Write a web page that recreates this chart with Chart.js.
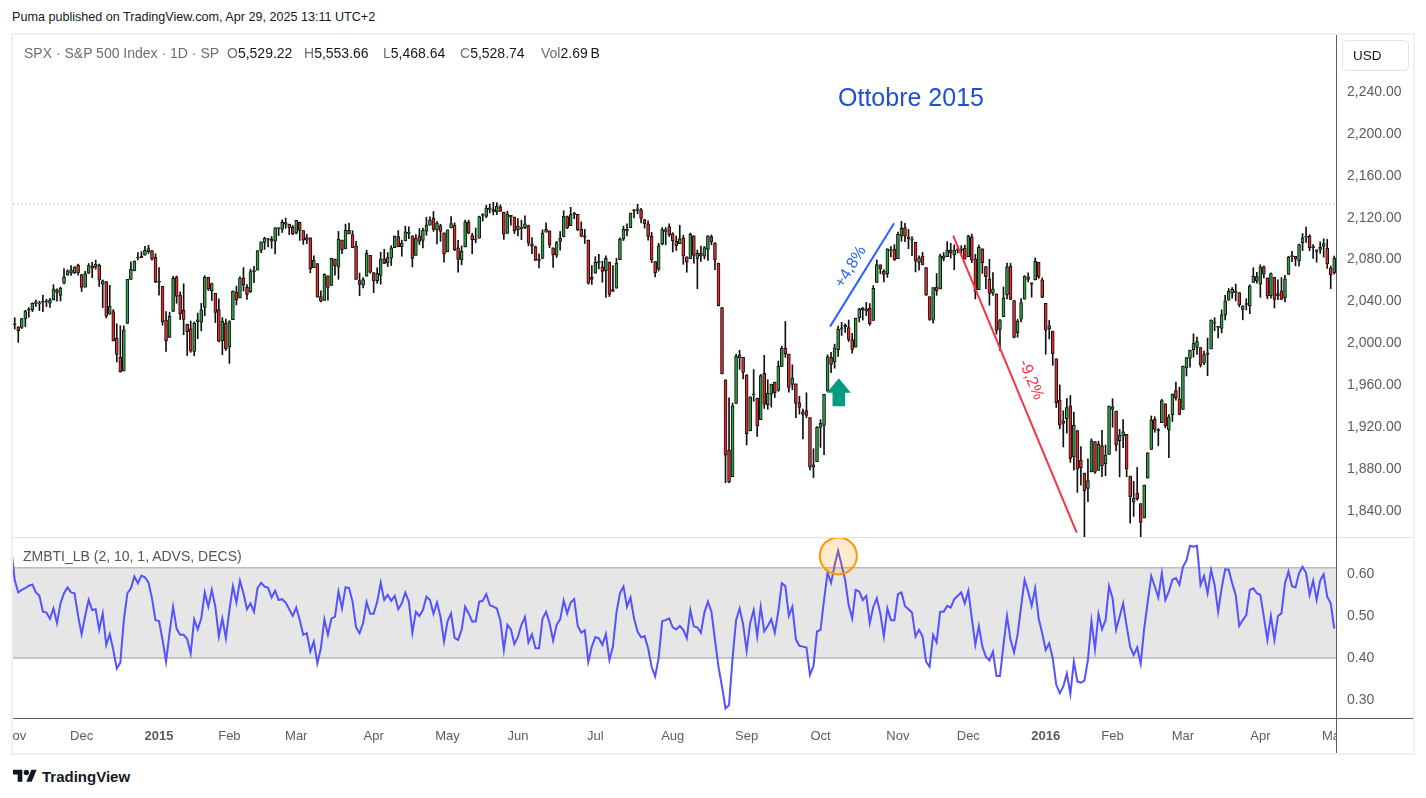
<!DOCTYPE html>
<html><head><meta charset="utf-8"><title>SPX 1D</title>
<script src="https://cdn.jsdelivr.net/npm/chart.js@4.4.1/dist/chart.umd.min.js"></script>
<style>
html,body{margin:0;padding:0;background:#fff;}
body{width:1426px;height:798px;position:relative;overflow:hidden;font-family:"Liberation Sans",Arial,sans-serif;}
.a{position:absolute;white-space:nowrap;}
canvas{position:absolute;}
#frame{left:11px;top:33px;width:1400px;height:718px;border:2px solid #eef0f3;}
.lg{position:absolute;top:45px;font-size:14px;white-space:nowrap;}
.g{color:#6a6d78}.v{color:#131722}
</style></head><body>
<div class="a" style="left:12px;top:10px;font-size:12.6px;color:#131722">Puma published on TradingView.com, Apr 29, 2025 13:11 UTC+2</div>
<div class="a" id="frame"></div>
<canvas id="pc" width="1400" height="502" style="left:13px;top:35px"></canvas>
<canvas id="ic" width="1400" height="216" style="left:13px;top:537px"></canvas>
<div class="a" style="left:13px;top:537px;width:1400px;height:1px;background:#e0e3eb"></div>
<div class="a" style="left:1336px;top:35px;width:1px;height:718px;background:#5d5d5d"></div>
<div class="a" style="left:13px;top:718px;width:1400px;height:1px;background:#5d5d5d"></div>
<div class="lg g" style="left:24px">SPX · S&amp;P 500 Index · 1D · SP</div>
<div class="lg" style="left:227px"><span class="g">O</span><span class="v">5,529.22</span></div>
<div class="lg" style="left:304px"><span class="g">H</span><span class="v">5,553.66</span></div>
<div class="lg" style="left:383px"><span class="g">L</span><span class="v">5,468.64</span></div>
<div class="lg" style="left:460px"><span class="g">C</span><span class="v">5,528.74</span></div>
<div class="lg" style="left:541px"><span class="g">Vol</span><span class="v">2.69&#8201;B</span></div>
<div class="a" style="left:1342px;top:40px;width:67px;height:31px;border:1px solid #e0e3eb;border-radius:5px;box-sizing:border-box;font-size:13.5px;color:#131722;padding:7px 0 0 10px">USD</div>
<div class="a" style="left:23px;top:548px;font-size:14px;color:#555">ZMBTI_LB (2, 10, 1, ADVS, DECS)</div>
<div class="a" style="left:838px;top:83px;font-size:25px;color:#1f4fd3">Ottobre 2015</div>
<div class="a" style="left:13px;top:767px;display:flex;align-items:center;">
<svg width="24" height="19" viewBox="0 0 36 28"><path d="M14 22H7V11H0V4h14v18zM28 22h-8l7.5-18h8L28 22z" fill="#131722"/><circle cx="20" cy="8" r="4" fill="#131722"/></svg>
<span style="margin-left:5px;font-size:15px;font-weight:bold;color:#131722">TradingView</span></div>
<script>
// ---------- DATA (SPX daily, 3 Nov 2014 .. 2 May 2016) ----------
const opens = [
2018.2,2015.8,2015.3,2023.3,2032.4,2032.0,2038.2,2037.8,2039.2,2039.7,2038.3,2041.5,2051.2,2045.9,2057.5,2065.1,2070.2,2067.4,2074.8,
2065.8,2053.8,2067.0,2073.6,2072.8,2074.8,2056.6,2058.9,2027.9,2030.4,2005.0,1986.7,1973.8,2019.0,2061.0,2069.3,2081.5,2083.3,2084.3,2087.6,2088.5,2082.1,
2058.9,2054.4,2022.2,2005.6,2030.6,2063.5,2046.1,2031.6,2018.4,2013.8,1992.3,2020.8,2020.2,2034.3,2063.0,2050.4,2047.9,2032.3,2002.5,2019.4,
1996.7,2022.7,2048.9,2043.5,2062.3,2053.5,2049.4,2068.6,2070.0,2088.8,2096.5,2099.2,2099.3,2097.7,2109.8,2109.1,2115.3,2113.9,2110.9,
2105.2,2115.8,2107.7,2098.5,2100.9,2072.3,2076.1,2044.7,2041.1,2064.6,2055.4,2080.6,2072.8,2098.7,2090.3,2108.0,2103.9,2093.1,2059.9,2055.8,2064.1,2084.1,
2067.6,2060.0,2064.9,2080.8,2076.9,2081.3,2091.5,2102.0,2092.3,2097.8,2105.0,2102.6,2084.1,2102.8,2098.3,2107.2,2112.8,2119.3,2108.4,2112.5,2105.5,
2087.4,2110.2,2112.6,2091.3,2080.0,2092.1,2115.6,2102.9,2099.6,2100.4,2122.1,2121.3,2129.5,2127.8,2125.6,2130.4,2125.3,2105.1,2122.3,2120.7,
2108.6,2110.4,2110.6,2112.4,2095.1,2092.3,2079.1,2081.1,2106.2,2107.4,2091.3,2084.3,2097.4,2101.6,2121.1,2112.5,2123.2,2123.2,2109.1,2102.6,2098.6,2061.2,
2067.0,2078.0,2073.0,2069.5,2077.7,2049.7,2052.7,2080.0,2099.7,2109.0,2110.6,2126.8,2126.9,2127.6,2118.2,2114.2,2102.2,2078.2,2070.8,2094.7,2106.8,2111.6,
2104.5,2097.7,2095.3,2100.8,2082.6,2081.0,2102.7,2081.1,2086.2,2083.2,2089.7,2102.0,2095.7,2076.6,2034.1,1965.2,1898.1,1872.8,1942.8,1986.1,1986.7,
1970.1,1916.5,1950.8,1947.8,1927.3,1971.5,1941.6,1951.5,1963.1,1955.1,1978.0,1995.3,1989.7,1960.8,1961.4,1943.2,1934.8,1935.9,1929.2,1881.9,1887.1,
1919.7,1921.8,1954.3,1986.6,1982.3,1994.0,2013.7,2015.7,2015.0,2003.7,1996.5,2024.4,2031.7,2033.1,2033.5,2021.9,2058.2,2075.1,2068.8,2066.5,2088.4,2090.0,
2080.8,2102.6,2110.6,2101.7,2098.6,2096.6,2077.2,2083.4,2072.3,2044.6,2022.1,2053.7,2052.0,2083.7,2082.8,2089.4,2084.4,2089.3,2088.8,2091.0,
2082.9,2101.7,2080.7,2051.2,2090.4,2073.4,2061.2,2047.9,2047.3,2013.4,2025.6,2046.5,2073.8,2040.8,2010.3,2023.2,2042.2,2063.5,2057.8,2060.5,2077.3,2060.6,
2038.2,2013.8,2011.7,1985.3,1946.0,1926.1,1927.8,1940.3,1891.7,1916.7,1888.7,1876.2,1861.5,1877.4,1906.3,1878.8,1902.5,1885.2,1894.0,
1936.9,1935.3,1907.1,1911.7,1913.1,1873.3,1848.5,1857.1,1847.0,1833.4,1871.4,1898.8,1927.6,1916.7,1924.4,1942.4,1917.6,1931.9,1955.0,1947.1,
1937.1,1976.6,1985.6,1994.0,1996.1,1996.1,1981.4,1991.0,1994.7,2019.3,2015.3,2014.2,2026.9,2041.2,2047.9,2048.6,2048.6,2032.5,2037.9,2035.8,2058.3,2063.8,
2056.6,2073.2,2062.5,2045.6,2063.0,2045.5,2050.2,2043.7,2065.9,2082.9,2083.1,2078.8,2096.1,2101.5,2102.1,2091.5,2089.4,2089.8,2092.6,2090.9,2071.8,
2067.2];
const highs = [
2024.5,2016.0,2023.8,2031.6,2034.3,2038.7,2041.3,2040.3,2046.2,2042.2,2043.1,2056.1,2052.1,2053.8,2071.5,2070.2,2074.2,2073.3,2075.8,
2065.8,2068.8,2076.3,2077.3,2079.5,2075.8,2060.6,2058.9,2055.5,2032.3,2018.7,2016.9,2016.8,2061.2,2077.9,2078.8,2086.7,2087.6,2092.7,2093.6,2088.5,2085.6,
2072.4,2054.4,2030.3,2029.6,2064.1,2064.4,2049.3,2056.9,2018.4,2021.4,2020.5,2028.9,2038.3,2064.6,2063.0,2057.6,2047.9,2042.5,2024.6,2023.3,
2021.7,2050.3,2054.7,2063.6,2072.4,2056.2,2070.9,2073.5,2088.5,2097.0,2101.3,2100.2,2102.1,2110.6,2110.1,2117.9,2119.6,2113.9,2112.7,
2117.5,2115.8,2107.7,2104.3,2100.9,2083.5,2076.1,2050.1,2066.4,2064.6,2081.4,2080.6,2106.9,2098.7,2113.9,2114.9,2107.6,2097.4,2067.2,2062.8,2089.0,2084.1,
2067.6,2072.2,2087.0,2089.8,2086.7,2093.3,2102.6,2107.7,2098.6,2111.9,2111.3,2102.6,2103.9,2109.6,2110.0,2120.5,2120.9,2125.9,2116.4,2113.7,2105.5,
2108.4,2121.0,2115.2,2098.4,2092.9,2117.7,2117.7,2105.1,2110.2,2121.5,2123.9,2131.8,2133.0,2134.7,2134.3,2132.2,2125.3,2126.2,2122.3,2120.7,
2119.2,2117.6,2121.9,2112.9,2101.0,2093.0,2085.6,2108.5,2115.0,2107.4,2091.3,2097.4,2106.8,2126.6,2121.6,2129.9,2125.1,2123.2,2116.0,2108.9,2098.6,2074.3,
2082.8,2085.1,2078.6,2083.7,2077.7,2074.3,2081.3,2100.7,2112.0,2114.1,2124.4,2128.0,2132.8,2128.9,2118.5,2116.9,2106.0,2078.2,2095.6,2110.6,2110.5,2114.2,
2105.7,2102.5,2112.7,2103.3,2082.6,2105.4,2102.7,2089.1,2092.9,2092.5,2102.9,2103.5,2096.2,2076.6,2034.1,1965.2,1948.0,1943.1,1989.6,1993.5,1986.7,
1970.1,1948.9,1975.0,1947.8,1970.4,1988.6,1965.3,1961.1,1963.1,1983.2,1997.3,2020.9,1989.7,1979.6,1961.4,1949.5,1937.2,1952.9,1929.2,1899.5,1920.5,
1927.2,1951.4,1989.2,1991.6,1999.3,2016.5,2020.1,2018.7,2022.3,2009.6,2024.2,2033.5,2034.5,2039.1,2038.0,2055.2,2079.7,2075.1,2070.4,2090.4,2092.5,2094.3,
2106.2,2116.5,2114.6,2108.8,2101.9,2096.6,2083.7,2086.9,2072.3,2044.6,2053.2,2066.7,2085.3,2086.7,2097.1,2095.6,2094.1,2093.0,2093.3,2093.8,
2103.4,2104.3,2085.0,2093.8,2090.4,2073.4,2080.3,2067.7,2047.3,2022.9,2053.9,2076.7,2076.4,2040.8,2022.9,2042.7,2064.7,2067.4,2057.8,2081.6,2077.3,2062.5,
2038.2,2021.9,2011.7,1985.3,1960.4,1935.7,1947.4,1950.3,1934.5,1916.7,1901.4,1876.2,1889.9,1908.9,1906.3,1906.7,1917.0,1903.0,1940.2,
1947.2,1935.3,1918.0,1927.4,1913.1,1873.3,1868.3,1881.6,1847.0,1864.8,1895.8,1930.7,1930.0,1918.8,1946.7,1942.4,1932.1,1951.8,1963.0,1958.3,
1978.4,1986.5,1993.7,2009.1,2006.1,1996.1,1992.7,2005.1,2022.4,2024.6,2015.9,2032.0,2046.0,2052.4,2053.4,2056.6,2048.6,2036.0,2042.7,2055.9,2072.2,2067.9,
2075.1,2074.0,2062.5,2067.3,2063.0,2060.6,2062.9,2065.1,2083.2,2087.8,2083.2,2094.7,2104.9,2111.1,2103.8,2094.3,2089.4,2096.9,2099.9,2099.3,2073.9,
2083.4];
const lows = [
2013.7,2001.0,2014.2,2015.9,2025.1,2030.2,2035.3,2031.3,2030.4,2035.2,2034.4,2041.5,2040.4,2040.5,2056.8,2065.1,2064.8,2066.6,2065.1,
2049.6,2053.8,2066.7,2062.8,2070.8,2054.3,2034.2,2024.3,2027.9,2002.3,1982.3,1972.6,1973.8,2019.0,2061.0,2069.3,2079.8,2081.9,2084.3,2085.8,2079.5,2057.9,
2046.0,2017.3,1992.4,2005.6,2030.6,2038.3,2022.6,2008.3,1988.4,1991.5,1988.1,2004.5,2012.0,2026.4,2050.5,2041.0,2019.9,2001.5,1989.2,1993.4,
1980.9,2022.7,2036.7,2043.5,2050.0,2041.9,2048.6,2058.0,2070.0,2086.7,2089.8,2092.2,2090.8,2085.4,2103.0,2105.9,2109.9,2103.8,2103.8,
2104.5,2098.3,2094.5,2095.2,2067.3,2072.2,2044.2,2039.7,2041.1,2041.2,2055.4,2065.1,2061.2,2085.6,2090.3,2104.4,2091.5,2061.1,2045.5,2053.0,2064.1,2067.0,
2048.4,2057.3,2056.5,2076.1,2073.3,2074.3,2091.5,2092.3,2083.2,2097.8,2100.0,2073.0,2084.1,2094.4,2091.1,2103.2,2112.8,2107.0,2094.9,2097.4,2077.6,
2087.4,2110.2,2088.5,2067.9,2075.0,2092.1,2104.6,2085.6,2096.0,2100.4,2116.8,2120.0,2124.5,2122.6,2122.9,2126.1,2099.2,2105.1,2112.9,2104.9,
2102.5,2099.1,2109.6,2093.2,2085.7,2079.1,2072.1,2081.1,2106.2,2091.3,2072.5,2082.1,2088.9,2101.6,2109.5,2112.5,2119.0,2107.6,2101.8,2095.4,2056.6,2056.3,
2067.0,2071.0,2058.4,2044.0,2044.7,2049.7,2052.7,2080.0,2098.2,2102.5,2110.6,2119.9,2123.7,2115.0,2110.0,2098.6,2077.1,2063.5,2069.1,2094.1,2094.1,2102.1,
2087.3,2088.6,2095.3,2075.5,2067.9,2081.0,2076.5,2052.1,2078.3,2080.6,2079.3,2094.1,2070.5,2035.7,1970.9,1867.0,1867.1,1872.8,1942.8,1975.2,1966.0,
1903.1,1916.5,1944.7,1911.2,1927.3,1937.9,1937.2,1939.2,1948.3,1954.3,1977.9,1986.7,1953.5,1955.8,1929.2,1932.6,1908.9,1929.0,1879.2,1871.9,1887.1,
1900.7,1893.7,1954.3,1972.0,1976.4,1987.5,2007.6,2010.6,2001.8,1990.7,1996.5,2020.5,2022.3,2026.6,2017.2,2021.9,2058.2,2066.5,2058.8,2063.1,2082.6,2079.3,
2080.8,2097.5,2097.0,2090.4,2083.7,2068.2,2069.9,2074.9,2045.7,2022.0,2019.4,2045.9,2052.0,2078.8,2082.8,2081.4,2070.3,2086.3,2084.1,2080.4,
2082.9,2077.1,2042.4,2051.2,2066.8,2052.3,2036.5,2045.7,2008.8,1993.3,2025.6,2042.4,2041.7,2005.3,2005.9,2020.5,2042.2,2058.7,2044.2,2060.5,2062.0,2043.6,
1989.7,2004.2,1979.1,1938.8,1918.5,1901.1,1914.4,1886.5,1878.9,1857.8,1864.6,1812.3,1849.0,1877.4,1876.0,1878.8,1872.7,1873.7,1894.0,
1920.0,1897.3,1872.6,1900.5,1872.7,1828.5,1834.9,1850.3,1810.1,1833.4,1871.4,1898.8,1915.1,1902.2,1924.4,1919.4,1891.0,1925.4,1945.8,1931.8,
1937.1,1968.9,1977.4,1986.8,1989.4,1977.4,1979.8,1969.2,1994.7,2012.1,2005.2,2010.0,2022.4,2041.2,2043.1,2040.6,2034.9,2022.5,2032.0,2028.3,2058.3,2057.5,
2044.0,2062.6,2042.6,2043.1,2033.8,2041.7,2041.9,2039.7,2065.9,2078.1,2074.0,2073.7,2088.6,2096.3,2088.5,2081.2,2077.5,2085.8,2082.3,2071.6,2052.3,
2066.1];
const closes = [
2017.8,2012.1,2023.6,2031.2,2031.9,2038.3,2039.7,2038.3,2039.3,2039.8,2041.3,2051.8,2048.7,2052.8,2063.5,2069.4,2067.0,2072.8,2067.6,
2053.4,2066.6,2074.3,2071.9,2075.4,2060.3,2059.8,2026.1,2035.3,2002.3,1989.6,1972.7,2012.9,2061.2,2070.7,2078.5,2082.2,2081.9,2088.8,2090.6,2080.4,2058.9,
2058.2,2020.6,2002.6,2025.9,2062.1,2044.8,2028.3,2023.0,2011.3,1992.7,2019.4,2022.6,2032.1,2063.2,2051.8,2057.1,2029.6,2002.2,2021.3,1995.0,
2020.9,2050.0,2041.5,2062.5,2055.5,2046.7,2068.6,2068.5,2088.5,2097.0,2100.3,2099.7,2097.5,2110.3,2109.7,2115.5,2113.9,2110.7,2104.5,
2117.4,2107.8,2098.5,2101.0,2071.3,2079.4,2044.2,2040.2,2066.0,2053.4,2081.2,2074.3,2099.5,2089.3,2108.1,2104.4,2091.5,2061.1,2056.2,2061.0,2086.2,2067.9,
2059.7,2067.0,2080.6,2076.3,2081.9,2091.2,2102.1,2092.4,2095.8,2106.6,2105.0,2081.2,2100.4,2097.3,2108.0,2112.9,2117.7,2108.9,2114.8,2106.9,2085.5,
2108.3,2114.5,2089.5,2080.2,2088.0,2116.1,2105.3,2099.1,2098.5,2121.1,2122.7,2129.2,2127.8,2125.9,2130.8,2126.1,2104.2,2123.5,2120.8,2107.4,
2111.7,2109.6,2114.1,2095.8,2092.8,2079.3,2080.2,2105.2,2108.9,2094.1,2084.4,2096.3,2100.4,2121.2,2110.0,2122.9,2124.2,2108.6,2102.3,2101.5,2057.6,2063.1,
2077.4,2076.8,2068.8,2081.3,2046.7,2051.3,2076.6,2099.6,2109.0,2107.4,2124.3,2126.6,2128.3,2119.2,2114.2,2102.2,2079.7,2067.6,2093.3,2108.6,2108.6,2103.8,
2098.0,2093.3,2099.8,2083.6,2077.6,2104.2,2084.1,2086.1,2083.4,2091.5,2102.4,2096.9,2079.6,2035.7,1970.9,1893.2,1867.6,1940.5,1987.7,1988.9,1972.2,
1913.9,1948.9,1951.1,1921.2,1969.4,1942.0,1952.3,1961.1,1953.0,1978.1,1995.3,1990.2,1958.0,1967.0,1942.7,1938.8,1932.2,1931.3,1881.8,1884.1,1920.0,
1923.8,1951.4,1987.1,1979.9,1995.8,2013.4,2014.9,2017.5,2003.7,1994.2,2023.9,2033.1,2033.7,2030.8,2018.9,2052.5,2075.2,2071.2,2065.9,2090.4,2089.4,2079.4,
2104.1,2109.8,2102.3,2099.9,2099.2,2078.6,2081.7,2075.0,2046.0,2023.0,2053.2,2050.4,2083.6,2081.2,2089.2,2086.6,2089.1,2088.9,2090.1,2080.4,
2102.6,2079.5,2049.6,2091.7,2077.1,2063.6,2047.6,2052.2,2012.4,2021.9,2043.4,2073.1,2041.9,2005.6,2021.2,2039.0,2064.3,2061.0,2056.5,2078.4,2063.4,2043.9,
2012.7,2016.7,1990.3,1943.1,1922.0,1923.7,1938.7,1890.3,1921.8,1880.3,1881.3,1859.3,1869.0,1906.9,1877.1,1903.6,1883.0,1893.4,1940.2,
1939.4,1903.0,1912.5,1915.5,1880.1,1853.4,1852.2,1851.9,1829.1,1864.8,1895.6,1926.8,1917.8,1917.8,1945.5,1921.3,1929.8,1951.7,1948.1,1932.2,
1978.4,1986.5,1993.4,2000.0,2001.8,1979.3,1989.3,1989.6,2022.2,2019.6,2015.9,2027.2,2040.6,2049.6,2051.6,2049.8,2036.7,2035.9,2037.1,2055.0,2064.0,2059.7,
2072.8,2066.1,2045.2,2066.7,2041.9,2047.6,2042.0,2061.7,2082.4,2082.8,2080.7,2094.3,2100.8,2102.4,2091.5,2091.6,2087.8,2091.7,2095.2,2075.8,2065.3,
2081.4];
// Zweig breadth thrust (ZMBTI_LB); first value belongs to the session before the first visible candle
const breadth = [0.66,
0.585,0.556,0.562,0.566,0.572,0.575,0.556,0.548,0.51,0.508,0.493,0.518,0.483,0.53,0.554,0.568,0.556,0.554,0.50,
0.456,0.50,0.538,0.514,0.516,0.467,0.506,0.431,0.457,0.419,0.375,0.389,0.49,0.554,0.566,0.594,0.578,0.596,0.592,0.58,0.542,0.49,
0.488,0.443,0.391,0.46,0.522,0.47,0.455,0.455,0.445,0.411,0.492,0.468,0.494,0.556,0.522,0.562,0.522,0.451,0.494,0.447,
0.514,0.571,0.532,0.584,0.554,0.516,0.53,0.51,0.566,0.579,0.57,0.567,0.544,0.56,0.538,0.54,0.532,0.516,0.5,
0.52,0.49,0.455,0.459,0.415,0.439,0.387,0.423,0.492,0.455,0.494,0.498,0.558,0.518,0.568,0.567,0.534,0.473,0.459,0.483,0.533,0.505,
0.505,0.534,0.579,0.538,0.55,0.536,0.548,0.516,0.53,0.556,0.534,0.46,0.51,0.5,0.514,0.546,0.538,0.505,0.532,0.498,0.439,
0.487,0.506,0.448,0.443,0.467,0.522,0.506,0.487,0.487,0.534,0.536,0.552,0.526,0.522,0.518,0.49,0.419,0.479,0.468,0.433,
0.45,0.479,0.498,0.437,0.456,0.423,0.423,0.494,0.51,0.483,0.441,0.479,0.492,0.537,0.506,0.532,0.54,0.476,0.46,0.466,0.391,0.427,
0.45,0.447,0.431,0.457,0.395,0.427,0.508,0.554,0.57,0.522,0.544,0.494,0.463,0.449,0.452,0.423,0.379,0.356,0.4,0.488,0.49,0.494,
0.473,0.468,0.476,0.467,0.447,0.514,0.475,0.473,0.46,0.508,0.534,0.51,0.443,0.379,0.332,0.28,0.288,0.399,0.49,0.518,0.48,
0.417,0.483,0.514,0.451,0.522,0.463,0.476,0.492,0.46,0.51,0.578,0.571,0.5,0.522,0.444,0.429,0.427,0.425,0.36,0.381,0.463,
0.467,0.538,0.603,0.579,0.62,0.655,0.621,0.586,0.526,0.494,0.562,0.558,0.538,0.548,0.483,0.522,0.542,0.506,0.451,0.518,0.49,0.49,
0.552,0.556,0.524,0.516,0.508,0.451,0.467,0.451,0.391,0.379,0.455,0.437,0.51,0.51,0.524,0.52,0.54,0.548,0.556,0.53,
0.56,0.494,0.431,0.476,0.427,0.403,0.394,0.415,0.357,0.357,0.431,0.5,0.443,0.413,0.455,0.522,0.586,0.558,0.524,0.566,0.494,0.459,
0.419,0.435,0.399,0.336,0.316,0.332,0.363,0.314,0.391,0.344,0.341,0.346,0.395,0.488,0.421,0.505,0.468,0.49,0.571,
0.542,0.467,0.498,0.53,0.476,0.427,0.407,0.425,0.386,0.471,0.534,0.595,0.57,0.544,0.602,0.538,0.558,0.586,0.59,0.574,
0.617,0.632,0.667,0.665,0.667,0.574,0.595,0.554,0.61,0.574,0.51,0.566,0.611,0.61,0.578,0.55,0.476,0.49,0.502,0.562,0.566,0.554,
0.55,0.498,0.443,0.5,0.443,0.5,0.506,0.578,0.606,0.571,0.568,0.602,0.617,0.602,0.55,0.584,0.538,0.584,0.599,0.546,0.53,
0.47];
const monthTickIdx = [0,19,41,61,80,102,123,143,165,187,208,229,251,271,293,312,332,354,375];
const monthTickLbl = ['Nov','Dec','2015','Feb','Mar','Apr','May','Jun','Jul','Aug','Sep','Oct','Nov','Dec','2016','Feb','Mar','Apr','May'];
const priceTicks = [1840,1880,1920,1960,2000,2040,2080,2120,2160,2200,2240];
const breadthTicks = [0.30,0.40,0.50,0.60];
const priceRange = [1815.2, 2294.4];
const breadthRange = [0.257, 0.688];
const bandUpper = 0.615, bandLower = 0.40;
const resistance = 2133;
// drawings (bar index, price)
const riseLine = {x0:231.7, p0:2016.0, x1:249.9, p1:2114.7, color:'#2962ff', text:'+4,8%', tx:237.6, tp:2073.0};
const fallLine = {x0:266.7, p0:2102.8, x1:301.8, p1:1819.3, color:'#f23645', text:'-9,2%', tx:288.8, tp:1965.1};
const upArrow = {x:234.2, p:1966.7, color:'#089981'};
const peakCircle = {x:234.05, v:0.643};

// ---------- CHARTS ----------
Chart.defaults.font.family = '"Liberation Sans", Arial, sans-serif';
Chart.defaults.animation = false;
const n = closes.length;
const idx = Array.from({length:n}, (_, i) => i);
const UP = '#2ea043', DN = '#e32a2a';
const xMin = -0.5, xMax = n - 0.5;
const fmtPrice = v => v.toLocaleString('en-US', {minimumFractionDigits:2, maximumFractionDigits:2});

const drawingsPlugin = {
  id:'drawings',
  afterDatasetsDraw(chart) {
    const {ctx, chartArea:a, scales:{x, y}} = chart;
    ctx.save();
    ctx.beginPath(); ctx.rect(a.left, a.top, a.right - a.left, a.bottom - a.top); ctx.clip();
    [riseLine, fallLine].forEach(t => {
      const X0 = x.getPixelForValue(t.x0), Y0 = y.getPixelForValue(t.p0);
      const X1 = x.getPixelForValue(t.x1), Y1 = y.getPixelForValue(t.p1);
      ctx.strokeStyle = t.color; ctx.lineWidth = 2;
      ctx.beginPath(); ctx.moveTo(X0, Y0); ctx.lineTo(X1, Y1); ctx.stroke();
      const ang = Math.atan2(Y1 - Y0, X1 - X0);
      ctx.save();
      ctx.translate(x.getPixelForValue(t.tx), y.getPixelForValue(t.tp));
      ctx.rotate(ang);
      ctx.fillStyle = t.color; ctx.font = '16px "Liberation Sans", Arial, sans-serif';
      ctx.textAlign = 'center'; ctx.textBaseline = 'middle';
      ctx.fillText(t.text, 0, 0);
      ctx.restore();
    });
    const ax = x.getPixelForValue(upArrow.x), ay = y.getPixelForValue(upArrow.p);
    ctx.fillStyle = upArrow.color;
    ctx.beginPath();
    ctx.moveTo(ax, ay); ctx.lineTo(ax + 12, ay + 14.5); ctx.lineTo(ax + 6.3, ay + 14.5);
    ctx.lineTo(ax + 6.3, ay + 28); ctx.lineTo(ax - 6.3, ay + 28); ctx.lineTo(ax - 6.3, ay + 14.5);
    ctx.lineTo(ax - 12, ay + 14.5); ctx.closePath(); ctx.fill();
    ctx.restore();
  }
};

new Chart(document.getElementById('pc'), {
  type:'bar',
  data:{ datasets:[
    { data: idx.map(i => ({x:i, y:[opens[i], closes[i]]})),
      backgroundColor: idx.map(i => closes[i] >= opens[i] ? UP : DN),
      borderColor:'#111', borderWidth:1, borderSkipped:false, barThickness:3, minBarLength:1, grouped:false },
    { data: idx.map(i => ({x:i, y:[lows[i], highs[i]]})),
      backgroundColor:'#111', borderWidth:0, barThickness:1, grouped:false },
    { type:'line', data:[{x:xMin - 1, y:resistance}, {x:xMax + 1, y:resistance}],
      borderColor:'#8a8a8a', borderWidth:1, borderDash:[1,3], pointRadius:0 }
  ]},
  options:{
    responsive:false, devicePixelRatio:1, layout:{padding:0},
    plugins:{legend:{display:false}, tooltip:{enabled:false}},
    scales:{
      x:{type:'linear', display:false, offset:false, min:xMin, max:xMax},
      y:{position:'right', min:priceRange[0], max:priceRange[1],
        grid:{display:false, drawTicks:false}, border:{display:false},
        afterBuildTicks: s => { s.ticks = priceTicks.map(v => ({value:v})); },
        afterFit: s => { s.width = 77; s.paddingTop = 0; s.paddingBottom = 0; },
        ticks:{padding:11, color:'#5c5c5c', font:{size:14}, callback: v => fmtPrice(v)}}
    }
  },
  plugins:[drawingsPlugin]
});

const breadthPlugin = {
  id:'breadthDraw',
  afterDatasetsDraw(chart) {
    const {ctx, chartArea:a, scales:{x, y}} = chart;
    ctx.save();
    ctx.beginPath(); ctx.rect(a.left, a.top, a.right - a.left, a.bottom - a.top); ctx.clip();
    ctx.beginPath();
    ctx.arc(x.getPixelForValue(peakCircle.x), y.getPixelForValue(peakCircle.v), 18.5, 0, Math.PI * 2);
    ctx.fillStyle = 'rgba(255,152,0,0.2)'; ctx.fill();
    ctx.strokeStyle = '#ff9800'; ctx.lineWidth = 2; ctx.stroke();
    ctx.restore();
  },
  afterDraw(chart) {
    const {ctx, chartArea:a, width, height} = chart;
    ctx.save(); ctx.fillStyle = '#fff';
    ctx.fillRect(a.right, a.bottom, width - a.right, height - a.bottom);
    ctx.restore();
  }
};

new Chart(document.getElementById('ic'), {
  type:'line',
  data:{ datasets:[
    { data: breadth.map((v, k) => ({x:k - 1, y:v})), borderColor:'#5353ff', borderWidth:2,
      pointRadius:0, tension:0, fill:false },
    { data:[{x:xMin - 1, y:bandUpper}, {x:xMax + 1, y:bandUpper}], borderColor:'#bcbcbc', borderWidth:1.5,
      pointRadius:0, fill:'+1', backgroundColor:'rgba(128,128,128,0.2)' },
    { data:[{x:xMin - 1, y:bandLower}, {x:xMax + 1, y:bandLower}], borderColor:'#bcbcbc', borderWidth:1.5,
      pointRadius:0, fill:false }
  ]},
  options:{
    responsive:false, devicePixelRatio:1, layout:{padding:0},
    plugins:{legend:{display:false}, tooltip:{enabled:false}},
    scales:{
      x:{type:'linear', offset:false, min:xMin, max:xMax, grid:{display:false, drawTicks:false}, border:{display:false},
        afterBuildTicks: s => { s.ticks = monthTickIdx.map(v => ({value:v})); },
        afterFit: s => { s.height = 35; s.paddingLeft = 0; s.paddingRight = 0; },
        ticks:{autoSkip:false, maxRotation:0, minRotation:0, padding:11, color:'#5c5c5c',
          font: c => ({size:13, weight: /^\d{4}$/.test(monthTickLbl[c.index] || '') ? 'bold' : 'normal'}),
          callback: (v, i) => monthTickLbl[i]}},
      y:{position:'right', min:breadthRange[0], max:breadthRange[1],
        grid:{display:false, drawTicks:false}, border:{display:false},
        afterBuildTicks: s => { s.ticks = breadthTicks.map(v => ({value:v})); },
        afterFit: s => { s.width = 77; s.paddingTop = 0; s.paddingBottom = 0; },
        ticks:{padding:11, color:'#5c5c5c', font:{size:14}, callback: v => v.toFixed(2)}}
    }
  },
  plugins:[breadthPlugin]
});
</script>
</body></html>
